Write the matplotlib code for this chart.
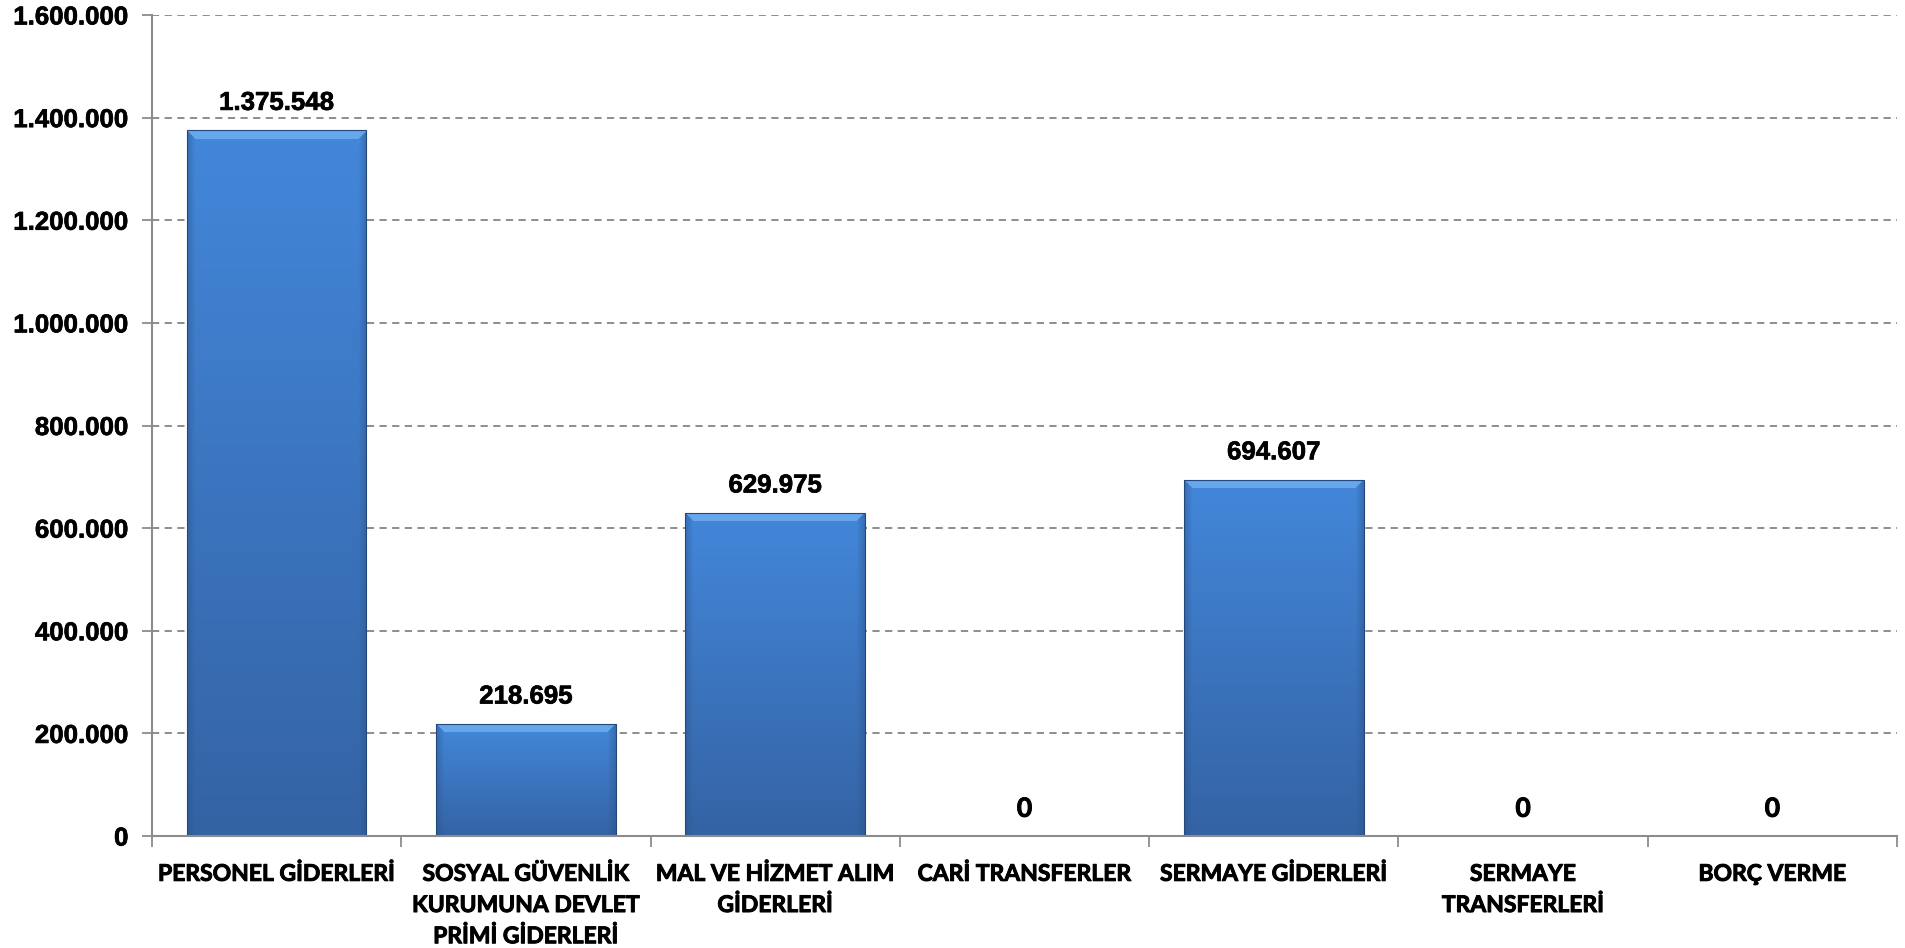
import numpy as np
import matplotlib.pyplot as plt
import matplotlib.patheffects as pe
from matplotlib.colors import to_rgb

categories = ['PERSONEL GİDERLERİ', 'SOSYAL GÜVENLİK\nKURUMUNA DEVLET\nPRİMİ GİDERLERİ',
              'MAL VE HİZMET ALIM\nGİDERLERİ', 'CARİ TRANSFERLER', 'SERMAYE GİDERLERİ',
              'SERMAYE\nTRANSFERLERİ', 'BORÇ VERME']
values = [1375548, 218695, 629975, 0, 694607, 0, 0]
yticks = [0, 200000, 400000, 600000, 800000, 1000000, 1200000, 1400000, 1600000]


def fmt(v):
    return '{:,}'.format(v).replace(',', '.')


thick = [pe.withStroke(linewidth=0.7, foreground='black')]

fig = plt.figure(figsize=(19.05, 9.48), dpi=100)
ax = fig.add_axes([0.0798, 0.1181, 0.9160, 0.8661])

ymax = 1600000
ax.set_xlim(-0.5, len(categories) - 0.5)
ax.set_ylim(0, ymax)

# gridlines
ax.set_yticks(yticks)
ax.set_yticklabels([fmt(t) for t in yticks], fontfamily='Liberation Sans',
                   fontweight='bold', fontsize=18.6)
for lab in ax.get_yticklabels():
    lab.set_path_effects([pe.withStroke(linewidth=0.5, foreground='black')])
for t in yticks[1:]:
    ax.axhline(t, color='#858585', lw=1.3, ls=(0, (4, 3)), zorder=1)

top_c = np.array(to_rgb('#4387da'))
bot_c = np.array(to_rgb('#3463a4'))
light = np.array(to_rgb('#6fb0f2'))
dark = np.array(to_rgb('#2a5185'))
px_per_unit = 821 / ymax
width = 0.72

bars = ax.bar(range(len(values)), values, width=width, color='none',
              edgecolor='#24487a', lw=0.8, zorder=3)
for i, (b, v) in enumerate(zip(bars, values)):
    if v > 0:
        h_px = int(v * px_per_unit)
        w_px = 179
        yy = np.linspace(1, 0, h_px)[:, None]
        img = bot_c + (top_c - bot_c) * yy[..., None]
        img = np.repeat(img, w_px, axis=1)
        xs = np.arange(w_px)
        edge = np.minimum(xs, w_px - 1 - xs)
        fac = np.clip(edge / 8.0, 0, 1)[None, :, None]
        img = dark + (img - dark) * (0.55 + 0.45 * fac)
        rows = np.arange(h_px)[:, None, None]
        # bevel on top: light band whose ends slope in from the sides
        bevel = (rows < 9) & (edge[None, :, None] >= rows)
        img = np.where(bevel, light * 0.8 + img * 0.2, img)
        x0 = b.get_x()
        im = ax.imshow(img, extent=[x0, x0 + width, 0, v], aspect='auto',
                       zorder=2, interpolation='bilinear')
        im.set_clip_path(b)
        t = ax.annotate(fmt(v), (i, v), xytext=(0, 11), textcoords='offset points',
                        ha='center', va='bottom', fontfamily='Liberation Sans',
                        fontweight='bold', fontsize=18.6)
        t.set_path_effects([pe.withStroke(linewidth=0.5, foreground='black')])
    else:
        t = ax.annotate('0', (i, v), xytext=(0, 11), textcoords='offset points',
                        ha='center', va='bottom', fontfamily='Lato',
                        fontweight='bold', fontsize=19)
        t.set_path_effects(thick)

ax.set_xlim(-0.5, len(categories) - 0.5)
ax.set_ylim(0, ymax)

ax.set_xticks(range(len(categories)))
ax.set_xticklabels(categories, fontfamily='Lato', fontweight='bold', fontsize=16.5,
                   linespacing=1.6)
for lab in ax.get_xticklabels():
    lab.set_path_effects(thick)
ax.set_xticks(np.arange(-0.5, len(categories)), minor=True)
ax.tick_params(axis='x', which='major', length=0, pad=20)
ax.tick_params(axis='x', which='minor', length=8, width=1.3, color='#8c8c8c')
ax.tick_params(axis='y', length=7, width=1.3, color='#8c8c8c', pad=10)

for s in ['top', 'right']:
    ax.spines[s].set_visible(False)
for s in ['left', 'bottom']:
    ax.spines[s].set_color('#8c8c8c')
    ax.spines[s].set_linewidth(1.5)
ax.spines['left'].set_zorder(4)
ax.spines['bottom'].set_zorder(4)

fig.savefig('out.png', dpi=100)
